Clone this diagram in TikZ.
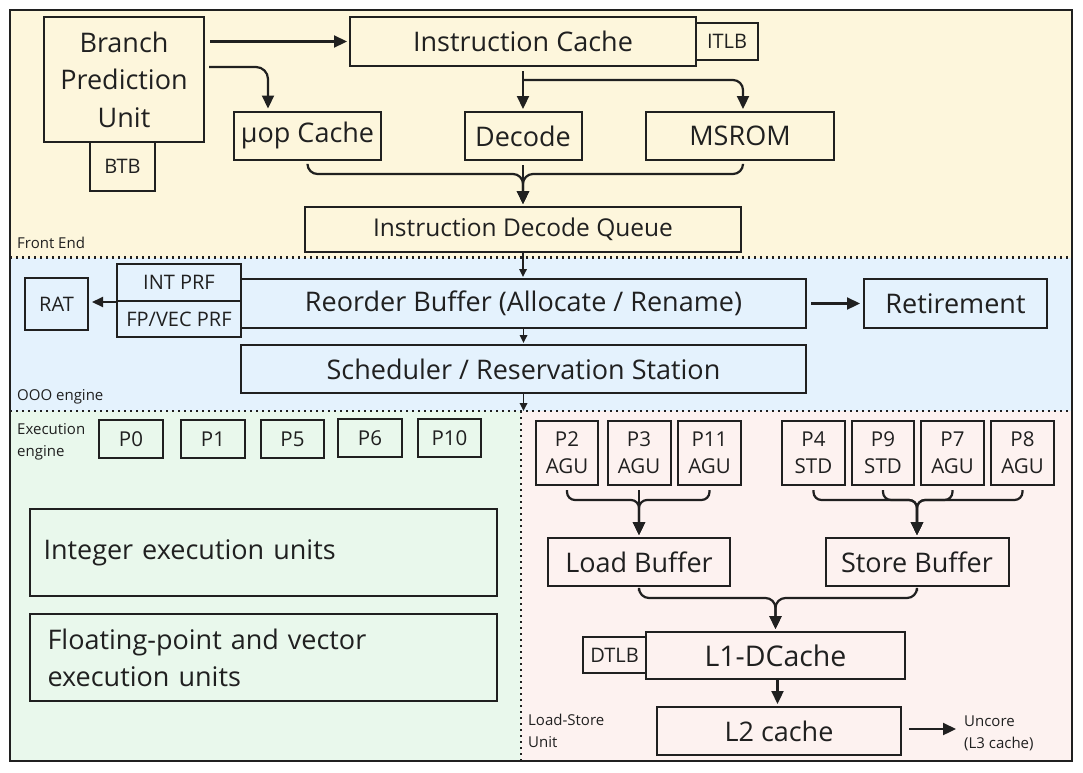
\documentclass[tikz,border=0pt]{standalone}
\usepackage{fontspec}
\setmainfont{Open Sans}
\usetikzlibrary{arrows.meta,calc}
\definecolor{fecol}{HTML}{FDF6DC}
\definecolor{ooocol}{HTML}{E4F2FD}
\definecolor{execol}{HTML}{E9F8EC}
\definecolor{lscol}{HTML}{FDF2F0}
\definecolor{ink}{HTML}{202020}
\newcommand\myfs[2]{\fontsize{#1}{#2}\selectfont}
\tikzset{
  box/.style={draw=ink, line width=2pt, inner sep=0pt, text=ink, align=center, font=\myfs{27}{32}},
  small/.style={box, font=\myfs{20}{24}},
  port/.style={box, font=\myfs{20.5}{27}},
  lbl/.style={inner sep=0pt, text=ink, align=left, font=\myfs{15}{22}},
  arr/.style={draw=ink, line width=2.2pt, -{Triangle[length=13pt,width=12pt]}, shorten >=2pt},
  sarr/.style={draw=ink, line width=1.7pt, -{Triangle[length=8pt,width=7.5pt]}, shorten >=1pt},
  sep/.style={draw=ink, line width=2.2pt, dash pattern=on 2.2pt off 3.8pt},
}
\begin{document}
\begin{tikzpicture}[x=1pt,y=-1pt]
\useasboundingbox (0,0) rectangle (1083,772);
% bands
\fill[fecol] (10,10) rectangle (1072,257.5);
\fill[ooocol] (10,257.5) rectangle (1072,411);
\fill[execol] (10,411) rectangle (521,761);
\fill[lscol] (521,411) rectangle (1072,761);
\draw[sep] (10,257.5) -- (1072,257.5);
\draw[sep] (10,411) -- (1072,411);
\draw[sep] (521,411) -- (521,761);
\draw[draw=ink, line width=2.4pt] (10,10) rectangle (1072,761);

% region labels
\node[lbl, anchor=west] (felbl) at (17,243) {Front End};
\node[lbl, anchor=west] (ooolbl) at (17,397) {OOO engine};
\node[lbl, anchor=north west] (exelbl) at (17,423) {Execution\\engine};
\node[lbl, anchor=north west] (lslbl) at (528,714) {Load-Store\\Unit};

% front end
\node[box, font=\myfs{27}{37.5}, minimum width=160pt, minimum height=125pt] (bpu) at (124,79.5) {Branch\\Prediction\\Unit};
\node[small, minimum width=65pt, minimum height=49pt] (btb) at (122.5,166.5) {BTB};
\node[box, minimum width=346pt, minimum height=49pt] (ic) at (523,41.5) {Instruction Cache};
\node[small, minimum width=62pt, minimum height=37pt] (itlb) at (727,41.5) {ITLB};
\node[box, minimum width=147pt, minimum height=48pt] (uop) at (307.5,135.5) {µop Cache};
\node[box, minimum width=117pt, minimum height=48pt] (dec) at (523,136) {Decode};
\node[box, minimum width=188pt, minimum height=48pt] (msrom) at (740,136) {MSROM};
\node[box, font=\myfs{24.5}{30}, minimum width=436pt, minimum height=45pt] (idq) at (523,229.5) {Instruction Decode Queue};

\coordinate (bpuout) at ($(bpu.north east)+(4,51)$);
\draw[arr] ($(bpu.east |- ic.west)+(5,0)$) -- (ic.west);
\draw[arr, rounded corners=12pt] (bpuout) -| ($(uop.north west)+(35,0)$);
\draw[arr, shorten <=4pt] (ic.south) -- (dec.north);
\coordinate (icfork) at ($(ic.south)+(0,13)$);
\draw[arr, rounded corners=10pt] (icfork) -| ($(msrom.north)+(3,0)$);
\coordinate (fm) at ($(dec.south)+(0,13)$);
\draw[arr, rounded corners=10pt] ($(uop.south)+(0,4)$) |- (fm) -- (idq.north);
\draw[arr, rounded corners=10pt] ($(msrom.south)+(3,4)$) |- (fm) -- (idq.north);
\draw[arr] ($(dec.south)+(0,4)$) -- (idq.north);

% OOO engine
\node[small, minimum width=63pt, minimum height=52pt] (rat) at (56.5,304) {RAT};
\node[small, minimum width=124pt, minimum height=37pt] (intprf) at (179,282.5) {INT PRF};
\node[small, minimum width=124pt, minimum height=36pt] (fpprf) at (179,319) {FP/VEC PRF};
\node[box, minimum width=565pt, minimum height=49pt] (rob) at (523.5,303.5) {Reorder Buffer (Allocate / Rename)};
\node[box, minimum width=183pt, minimum height=49pt] (ret) at (955.5,303.5) {Retirement};
\node[box, minimum width=565pt, minimum height=48pt] (sched) at (523.5,369) {Scheduler / Reservation Station};
\coordinate (div) at ($(sched.south)+(0,18)$);

\draw[sarr] (idq.south) -- (idq.south |- rob.north);
\draw[sarr] (rob.south) -- (rob.south |- sched.north);
\draw[sarr] (sched.south) -- (div);
\draw[draw=ink, line width=2pt, -{Triangle[length=11pt,width=10pt]}, shorten >=3pt] (intprf.south west) -- (rat.east |- intprf.south west);
\draw[arr, shorten <=4pt, shorten >=3pt] (rob.east) -- (ret.west);

% execution engine
\node[port, minimum width=64pt, minimum height=38pt] (p0) at (131,439) {P0};
\node[port, minimum width=64pt, minimum height=38pt] (p1) at (213,439) {P1};
\node[port, minimum width=63pt, minimum height=38pt] (p5) at (292.5,439) {P5};
\node[port, minimum width=64pt, minimum height=38pt] (p6) at (370,438) {P6};
\node[port, minimum width=63pt, minimum height=38pt] (p10) at (449.5,438) {P10};
\node[box, minimum width=467pt, minimum height=87pt, text width=440pt, align=left] (intex) at (263.5,552.5) {Integer execution units};
\node[box, font=\myfs{27}{37}, minimum width=467pt, minimum height=87pt, text width=432pt, align=left] (fpex) at (263.5,657.5) {Floating-point and vector\\execution units};

% load-store unit
\node[port, minimum width=62pt, minimum height=64pt] (p2) at (567,453) {P2\\AGU};
\node[port, minimum width=63pt, minimum height=64pt] (p3) at (639,453) {P3\\AGU};
\node[port, minimum width=63pt, minimum height=64pt] (p11) at (709.5,453) {P11\\AGU};
\node[port, minimum width=63pt, minimum height=64pt] (p4) at (813.5,453) {P4\\STD};
\node[port, minimum width=62pt, minimum height=64pt] (p9) at (883,453) {P9\\STD};
\node[port, minimum width=63pt, minimum height=64pt] (p7) at (952.5,453) {P7\\AGU};
\node[port, minimum width=63pt, minimum height=64pt] (p8) at (1022.5,453) {P8\\AGU};
\node[box, minimum width=182pt, minimum height=48pt] (lb) at (639,562) {Load Buffer};
\node[box, minimum width=183pt, minimum height=48pt] (sb) at (917,562) {Store Buffer};
\node[box, font=\myfs{28.5}{32}, minimum width=259pt, minimum height=47pt] (l1) at (775.5,655.5) {L1-DCache};
\node[small, minimum width=63pt, minimum height=36pt] (dtlb) at (614.5,655) {DTLB};
\node[box, minimum width=244pt, minimum height=48pt] (l2) at (779,731) {L2 cache};
\node[lbl, anchor=west] (uncore) at (964,733) {Uncore\\(L3 cache)};

\coordinate (lm) at ($(lb.north)+(0,-37)$);
\coordinate (sm) at ($(sb.north)+(0,-37)$);
\coordinate (bm) at ($(l1.north)+(0,-33)$);
\foreach \p in {p2,p11}{\draw[arr, rounded corners=8pt] ($(\p.south)+(0,4)$) |- (lm) -- (lb.north);}
\draw[arr] ($(p3.south)+(0,4)$) -- (lb.north);
\foreach \p in {p4,p9,p7,p8}{\draw[arr, rounded corners=8pt] ($(\p.south)+(0,4)$) |- (sm) -- (sb.north);}
\draw[arr, rounded corners=10pt] ($(lb.south)+(0,4)$) |- (bm) -- (l1.north);
\draw[arr, rounded corners=10pt] ($(sb.south)+(0,4)$) |- (bm) -- (l1.north);
\draw[arr] ($(l1.south)+(2,0)$) -- ($(l1.south |- l2.north)+(2,0)$);
\draw[arr, shorten >=8pt] ($(l2.east)+(7,-2)$) -- (uncore.west |- 0,729);
\end{tikzpicture}
\end{document}
